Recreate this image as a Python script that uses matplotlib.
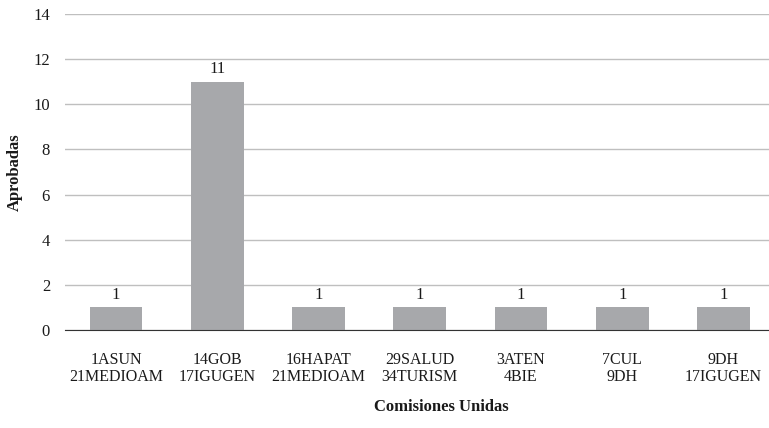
import matplotlib
matplotlib.use("Agg")
import matplotlib.pyplot as plt

categories = ["1ASUN\n21MEDIOAM", "14GOB\n17IGUGEN", "16HAPAT\n21MEDIOAM", "29SALUD\n34TURISM",
              "3ATEN\n4BIE", "7CUL\n9DH", "9DH\n17IGUGEN"]
aprobadas = [1, 11, 1, 1, 1, 1, 1]
yticks = [0, 2, 4, 6, 8, 10, 12, 14]

BAR = "#a7a8ab"; GRID = "#bfbfbf"; TXT = "#1a1a1a"
plt.rcParams["font.family"] = ["Liberation Serif", "DejaVu Serif"]

fig = plt.figure(figsize=(7.69, 4.28), dpi=100)
ax = fig.add_axes([0.085, 0.229, 0.915, 0.738])
x = range(len(categories))
bars = ax.bar(x, aprobadas, width=0.52, color=BAR, zorder=3)
for xi, v in zip(x, aprobadas):
    ax.text(xi, v + 0.2, str(v), ha="center", va="bottom", fontsize=12, color=TXT)

ax.set_ylim(0, 14)
ax.set_xlim(-0.5, 6.45)
ax.set_yticks(yticks)
ax.set_xticks(list(x))
ax.set_xticklabels(categories, fontsize=11.5, color=TXT, linespacing=1.05)
ax.tick_params(axis="y", length=0, labelsize=12, labelcolor=TXT, pad=11)
ax.tick_params(axis="x", length=0, pad=16)
ax.yaxis.grid(True, color=GRID, lw=1, zorder=0)
for s in ["top", "right", "left"]:
    ax.spines[s].set_visible(False)
ax.spines["bottom"].set_color("#333333")
ax.spines["bottom"].set_zorder(4)
fig.text(0.019, 0.598, "Aprobadas", rotation=90, ha="center", va="center",
         fontsize=12, fontweight="bold", color=TXT)
fig.text(0.574, 0.049, "Comisiones Unidas", ha="center", va="center",
         fontsize=12, fontweight="bold", color=TXT)

fig.savefig("out.png", dpi=100)
